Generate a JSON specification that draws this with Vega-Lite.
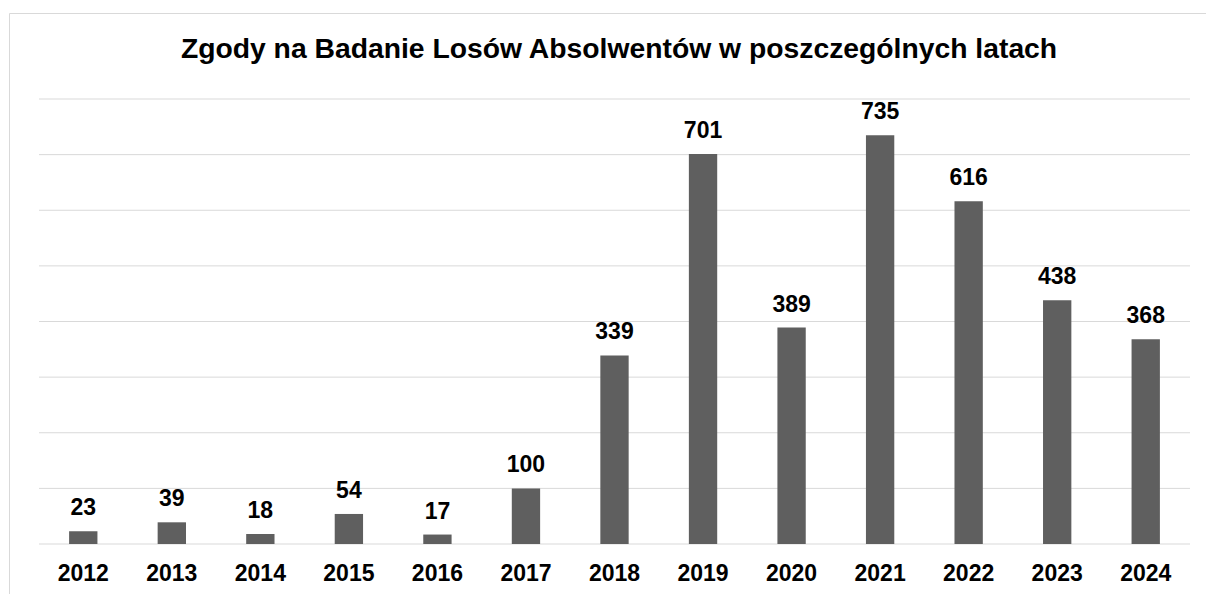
{
  "$schema": "https://vega.github.io/schema/vega-lite/v6.json",
  "autosize": "none",
  "padding": {"left": 9, "top": 13, "right": 0, "bottom": 0},
  "width": 1220,
  "height": 600,
  "background": "white",
  "config": {
    "view": {"stroke": "#d9d9d9", "strokeWidth": 1},
    "font": "Liberation Sans"
  },
  "title": {
    "text": "Zgody na Badanie Losów Absolwentów w poszczególnych latach",
    "font": "Liberation Sans",
    "fontSize": 28.3,
    "fontWeight": "bold",
    "color": "#000000",
    "anchor": "middle",
    "frame": "group",
    "baseline": "alphabetic",
    "offset": -73
  },
  "data": {
    "values": [
      {"year": "2012", "count": 23},
      {"year": "2013", "count": 39},
      {"year": "2014", "count": 18},
      {"year": "2015", "count": 54},
      {"year": "2016", "count": 17},
      {"year": "2017", "count": 100},
      {"year": "2018", "count": 339},
      {"year": "2019", "count": 701},
      {"year": "2020", "count": 389},
      {"year": "2021", "count": 735},
      {"year": "2022", "count": 616},
      {"year": "2023", "count": 438},
      {"year": "2024", "count": 368}
    ]
  },
  "layer": [
    {
      "data": {
        "values": [
          {"grid": 0}, {"grid": 100}, {"grid": 200}, {"grid": 300}, {"grid": 400},
          {"grid": 500}, {"grid": 600}, {"grid": 700}, {"grid": 800}
        ]
      },
      "mark": {"type": "rule", "color": "#d9d9d9", "strokeWidth": 1},
      "encoding": {
        "y": {"field": "grid", "type": "quantitative", "axis": null,
              "scale": {"domain": [0, 800], "range": [531, 86], "nice": false}},
        "x": {"datum": 0, "type": "quantitative", "axis": null,
              "scale": {"domain": [0, 1], "range": [30, 1181]}},
        "x2": {"datum": 1}
      }
    },
    {
      "layer": [
        {
          "mark": {"type": "bar", "color": "#5f5f5f"},
          "encoding": {
            "x": {
              "field": "year", "type": "nominal", "sort": null,
              "scale": {"range": [30, 1181], "paddingInner": 0.68, "paddingOuter": 0.34},
              "axis": {
                "title": null, "domain": false, "ticks": false, "tickSize": 0,
                "labelAngle": 0, "labelFont": "Liberation Sans", "labelFontSize": 23,
                "labelFontWeight": "bold", "labelColor": "#000000",
                "labelBaseline": "alphabetic", "labelPadding": 36, "offset": -69,
                "grid": false
              }
            },
            "y": {"field": "count", "type": "quantitative", "axis": null,
                  "scale": {"domain": [0, 800], "range": [531, 86], "nice": false}}
          }
        },
        {
          "mark": {"type": "text", "font": "Liberation Sans", "fontSize": 23, "fontWeight": "bold",
                   "color": "#000000", "baseline": "alphabetic", "dy": -16},
          "encoding": {
            "x": {"field": "year", "type": "nominal", "sort": null},
            "y": {"field": "count", "type": "quantitative"},
            "text": {"field": "count", "type": "quantitative"}
          }
        }
      ]
    }
  ],
  "resolve": {"scale": {"x": "independent"}}
}
